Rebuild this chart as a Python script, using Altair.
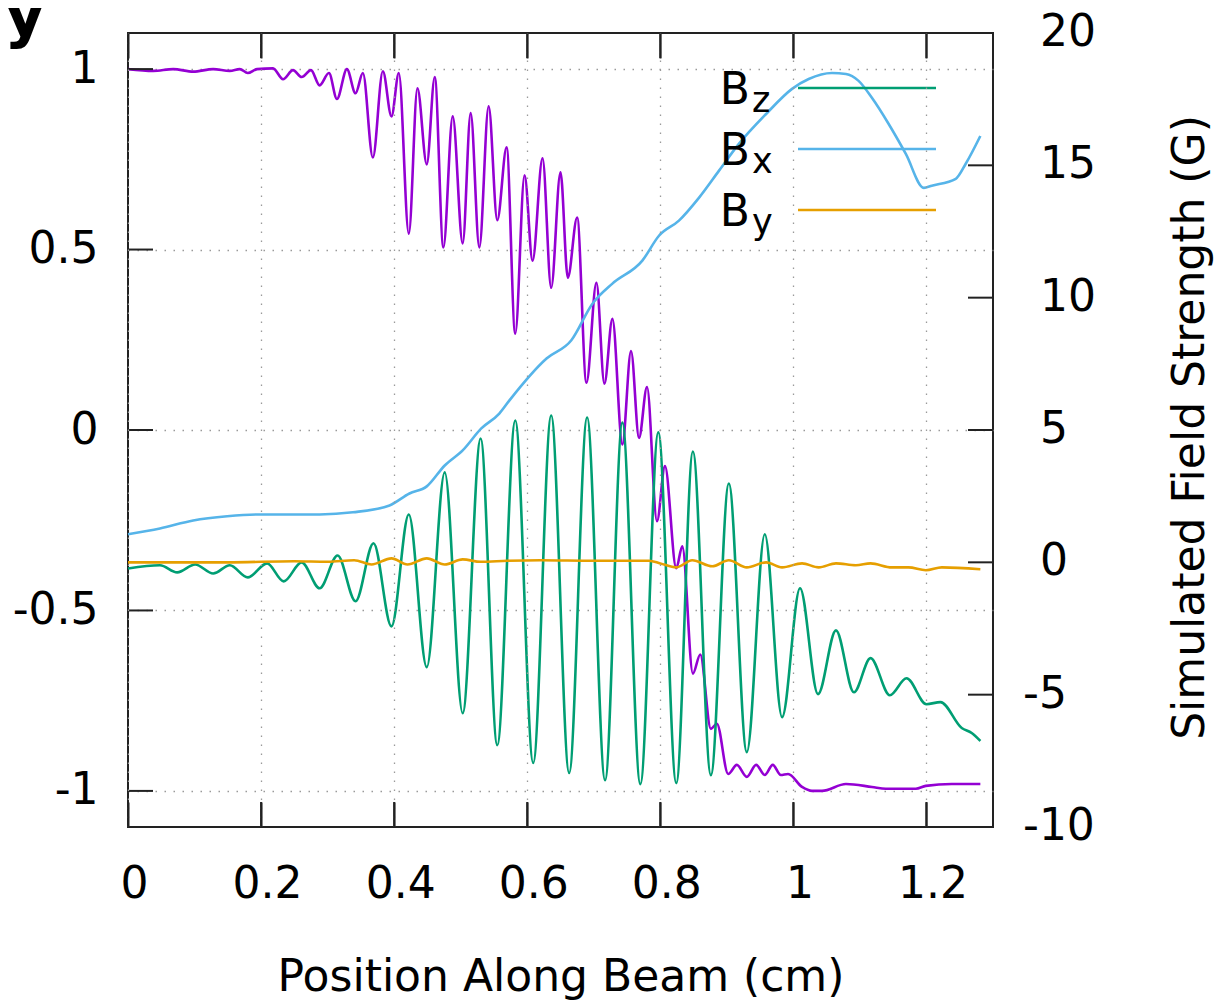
import altair as alt
import pandas as pd

# ---------------- data ----------------
# left axis series (purple, normalised -1..1)
x_purple = [0.000, 0.038, 0.068, 0.098, 0.128, 0.153, 0.168, 0.180, 0.194, 0.218,
            0.233, 0.248, 0.261, 0.275, 0.288, 0.302, 0.314, 0.329, 0.342, 0.353,
            0.368, 0.383, 0.396, 0.407, 0.422, 0.435, 0.449, 0.461, 0.474, 0.488,
            0.503, 0.515, 0.528, 0.542, 0.555, 0.569, 0.582, 0.596, 0.608, 0.623,
            0.636, 0.650, 0.661, 0.675, 0.689, 0.704, 0.716, 0.728, 0.743, 0.756,
            0.768, 0.780, 0.795, 0.807, 0.824, 0.833, 0.849, 0.860, 0.876, 0.885,
            0.902, 0.915, 0.930, 0.944, 0.957, 0.969, 0.981, 0.992, 1.013, 1.028,
            1.043, 1.079, 1.118, 1.139, 1.184, 1.199, 1.238, 1.281]
v_purple = [1.000, 0.995, 1.000, 0.993, 1.000, 0.995, 1.000, 0.989, 1.000, 1.002,
            0.972, 0.997, 0.978, 0.997, 0.955, 0.989, 0.917, 1.000, 0.933, 0.989,
            0.755, 0.994, 0.869, 0.989, 0.544, 0.947, 0.736, 0.978, 0.506, 0.869,
            0.517, 0.878, 0.506, 0.897, 0.581, 0.783, 0.267, 0.706, 0.469, 0.753,
            0.394, 0.714, 0.422, 0.589, 0.131, 0.408, 0.128, 0.308, -0.040, 0.219,
            -0.022, 0.119, -0.253, -0.100, -0.383, -0.322, -0.675, -0.622, -0.828, -0.814,
            -0.953, -0.928, -0.961, -0.928, -0.956, -0.928, -0.956, -0.953, -0.989, -1.000,
            -1.000, -0.981, -0.989, -0.994, -0.994, -0.986, -0.981, -0.981]

# right axis series (G)
x_bz = [0.000, 0.048, 0.074, 0.101, 0.128, 0.153, 0.180, 0.209, 0.234, 0.261,
        0.288, 0.315, 0.342, 0.369, 0.396, 0.422, 0.449, 0.476, 0.503, 0.530,
        0.555, 0.582, 0.609, 0.636, 0.663, 0.690, 0.717, 0.743, 0.770, 0.797,
        0.824, 0.849, 0.876, 0.903, 0.930, 0.957, 0.983, 1.010, 1.037, 1.064,
        1.091, 1.116, 1.145, 1.170, 1.200, 1.221, 1.253, 1.268, 1.281]
v_bz = [-0.23, -0.11, -0.38, -0.08, -0.42, -0.11, -0.57, -0.04, -0.72, 0.00,
        -0.98, 0.26, -1.47, 0.72, -2.42, 1.81, -3.96, 3.40, -5.70, 4.68,
        -6.91, 5.36, -7.58, 5.55, -7.96, 5.47, -8.23, 5.28, -8.38, 4.91,
        -8.34, 4.19, -8.04, 2.98, -7.17, 1.06, -5.85, -0.98, -4.98, -2.57,
        -4.91, -3.62, -5.02, -4.38, -5.36, -5.28, -6.26, -6.45, -6.75]

x_bx = [0.000, 0.048, 0.098, 0.149, 0.198, 0.288, 0.338, 0.393, 0.423, 0.449,
        0.476, 0.503, 0.531, 0.558, 0.573, 0.629, 0.666, 0.698, 0.728, 0.773,
        0.798, 0.828, 0.858, 0.888, 0.918, 0.959, 0.998, 1.023, 1.058, 1.079,
        1.098, 1.118, 1.143, 1.169, 1.196, 1.208, 1.244, 1.259, 1.281]
v_bx = [1.06, 1.28, 1.58, 1.74, 1.81, 1.81, 1.89, 2.15, 2.60, 2.87,
        3.66, 4.23, 5.06, 5.62, 6.11, 7.70, 8.38, 9.77, 10.53, 11.40,
        12.34, 12.91, 13.77, 14.79, 15.81, 16.94, 17.89, 18.26, 18.49, 18.45,
        18.19, 17.55, 16.57, 15.43, 14.15, 14.23, 14.49, 15.06, 16.11]

x_by = [0.000, 0.150, 0.250, 0.300, 0.340, 0.366, 0.396, 0.420, 0.449, 0.476,
        0.503, 0.530, 0.570, 0.620, 0.700, 0.783, 0.800, 0.824, 0.848, 0.878,
        0.903, 0.930, 0.959, 0.983, 1.013, 1.038, 1.064, 1.094, 1.116, 1.148,
        1.173, 1.199, 1.223, 1.281]
v_by = [0.00, 0.00, 0.04, 0.02, 0.08, -0.08, 0.15, -0.08, 0.15, -0.08,
        0.11, 0.02, 0.06, 0.08, 0.06, 0.06, -0.04, -0.19, 0.08, -0.15,
        0.08, -0.19, 0.00, -0.19, -0.04, -0.19, -0.04, -0.11, -0.04, -0.19,
        -0.19, -0.30, -0.19, -0.26]

x_ticks = [0, 0.2, 0.4, 0.6, 0.8, 1, 1.2]
left_ticks = [-1, -0.5, 0, 0.5, 1]
right_ticks = [-10, -5, 0, 5, 10, 15, 20]

legend_subs = ["z", "x", "y"]

x_title = "Position Along Beam (cm)"
right_title = "Simulated Field Strength (G)"

# ---------------- styling ----------------
W, H = 865, 794
FONT = "DejaVu Sans"
PURPLE, GREEN, BLUE, ORANGE = "#9400d3", "#009e73", "#56b4e9", "#e69f00"
legend_colors = [GREEN, BLUE, ORANGE]
LW = 2.6
TICK_COLOR = "#222222"
TICK_LEN = 25
INWARD = alt.ExprRef(expr="-25")   # inward (gnuplot style) axis ticks
GRID = dict(grid=True, gridDash=[1.5, 7.5], gridColor="#9a9a9a", gridWidth=1.3)

xscale = alt.Scale(domain=[0, 1.3], nice=False, zero=False)
lscale = alt.Scale(domain=[-1.1, 1.1], nice=False, zero=False)
rscale = alt.Scale(domain=[-10, 20], nice=False, zero=False)

lab = dict(labelFont=FONT, labelFontSize=44, labelColor="black", labelFlush=False,
           labelExpr="'' + datum.value", domain=False)

# bottom x axis: labels, title, vertical grid and inward ticks
x_axis = alt.Axis(values=x_ticks, orient="bottom", labelPadding=35 + TICK_LEN,
                  labelOffset=6, ticks=True, tickSize=INWARD, tickWidth=2,
                  tickColor=TICK_COLOR, zindex=1,
                  title=x_title, titleFont=FONT, titleFontSize=44,
                  titleFontWeight="normal", titleColor="black",
                  titleY=163, titleBaseline="alphabetic", **GRID, **lab)
# mirrored top x axis: inward ticks only
x_top_axis = alt.Axis(values=x_ticks, orient="top", labels=False, grid=False,
                      domain=False, ticks=True, tickSize=INWARD, tickWidth=2,
                      tickColor=TICK_COLOR, zindex=1, title=None)
left_axis = alt.Axis(values=left_ticks, orient="left", labelPadding=30,
                     ticks=False, tickSize=0, title=None, **GRID, **lab)
right_axis = alt.Axis(values=right_ticks, orient="right", grid=False, labels=False,
                      ticks=False, tickSize=0, domain=False,
                      title=right_title, titleFont=FONT, titleFontSize=44,
                      titleFontWeight="normal", titleColor="black",
                      titleAngle=270, titleX=210, titleY=394,
                      titleBaseline="alphabetic")

# ---------------- left-axis layers ----------------
purple = alt.Chart(pd.DataFrame({"x": x_purple, "v": v_purple})).mark_line(
    color=PURPLE, strokeWidth=LW, interpolate="monotone"
).encode(
    x=alt.X("x:Q", scale=xscale, axis=x_axis),
    y=alt.Y("v:Q", scale=lscale, axis=left_axis),
)

# x-axis tick marks as rules too (inward, bottom and top)
xt = pd.DataFrame({"t": x_ticks})
x_bottom_ticks = alt.Chart(xt).mark_rule(color=TICK_COLOR, strokeWidth=2).encode(
    x=alt.X("t:Q", scale=xscale, axis=None), y=alt.value(H), y2=alt.value(H - TICK_LEN))
x_top_ticks = alt.Chart(xt).mark_rule(color=TICK_COLOR, strokeWidth=2).encode(
    x=alt.X("t:Q", scale=xscale, axis=None), y=alt.value(0), y2=alt.value(TICK_LEN))

l_ticks = alt.Chart(pd.DataFrame({"t": left_ticks})).mark_rule(
    color=TICK_COLOR, strokeWidth=2).encode(
    y=alt.Y("t:Q", scale=lscale, axis=None), x=alt.value(0), x2=alt.value(TICK_LEN))


# ---------------- right-axis layers ----------------
def field_line(xs, vs, color, xaxis=None, yaxis=None):
    enc_x = alt.X("x:Q", scale=xscale, axis=xaxis) if xaxis is not None else \
        alt.X("x:Q", scale=xscale, axis=None)
    enc_y = alt.Y("v:Q", scale=rscale, axis=yaxis) if yaxis is not None else \
        alt.Y("v:Q", scale=rscale, axis=None)
    return alt.Chart(pd.DataFrame({"x": xs, "v": vs})).mark_line(
        color=color, strokeWidth=LW, interpolate="monotone"
    ).encode(x=enc_x, y=enc_y)


bz = field_line(x_bz, v_bz, GREEN, xaxis=x_top_axis, yaxis=right_axis)
bx = field_line(x_bx, v_bx, BLUE)
by = field_line(x_by, v_by, ORANGE)

rt = pd.DataFrame({"t": right_ticks})
r_ticks = alt.Chart(rt).mark_rule(color=TICK_COLOR, strokeWidth=2).encode(
    y=alt.Y("t:Q", scale=rscale, axis=None), x=alt.value(W), x2=alt.value(W - TICK_LEN))

# right-axis tick labels: digits left-aligned, minus sign hanging to the left
r_labels_pos = alt.Chart(rt).transform_filter("datum.t >= 0").mark_text(
    align="left", baseline="middle", font=FONT, fontSize=44, color="black", dx=47
).encode(y=alt.Y("t:Q", scale=rscale, axis=None), x=alt.value(W), text="t:N")
r_labels_neg = alt.Chart(rt).transform_filter("datum.t < 0").mark_text(
    align="left", baseline="middle", font=FONT, fontSize=44, color="black", dx=30
).encode(y=alt.Y("t:Q", scale=rscale, axis=None), x=alt.value(W), text="t:N")

one = pd.DataFrame({"a": [0]})
legend_layers = []
for i, (sub, col) in enumerate(zip(legend_subs, legend_colors)):
    row_y = 55 + 61 * i
    legend_layers.append(alt.Chart(one).mark_text(
        text="B", align="right", baseline="alphabetic", font=FONT, fontSize=44,
        color="black").encode(x=alt.value(622), y=alt.value(row_y + 16)))
    legend_layers.append(alt.Chart(one).mark_text(
        text=sub, align="left", baseline="alphabetic", font=FONT, fontSize=35,
        color="black").encode(x=alt.value(624), y=alt.value(row_y + 24)))
    legend_layers.append(alt.Chart(one).mark_rule(color=col, strokeWidth=LW).encode(
        x=alt.value(670), x2=alt.value(808), y=alt.value(row_y)))

panel_label = alt.Chart(one).mark_text(
    text="y", align="left", baseline="alphabetic", font=FONT, fontSize=64,
    fontWeight="bold", color="black").encode(x=alt.value(-124), y=alt.value(2))

chart = alt.layer(
    purple, bz, bx, by,
    x_bottom_ticks, x_top_ticks, l_ticks, r_ticks, r_labels_pos, r_labels_neg,
    *legend_layers, panel_label
).resolve_scale(y="independent").resolve_axis(x="independent").properties(
    width=W, height=H,
    background="white",
    autosize=alt.AutoSizeParams(type="none"),
    padding={"left": 120, "top": 25, "right": 222, "bottom": 175},
).configure_view(stroke="#222222", strokeWidth=2)

chart.save("out.html", embed_options={"renderer": "svg", "actions": False})
